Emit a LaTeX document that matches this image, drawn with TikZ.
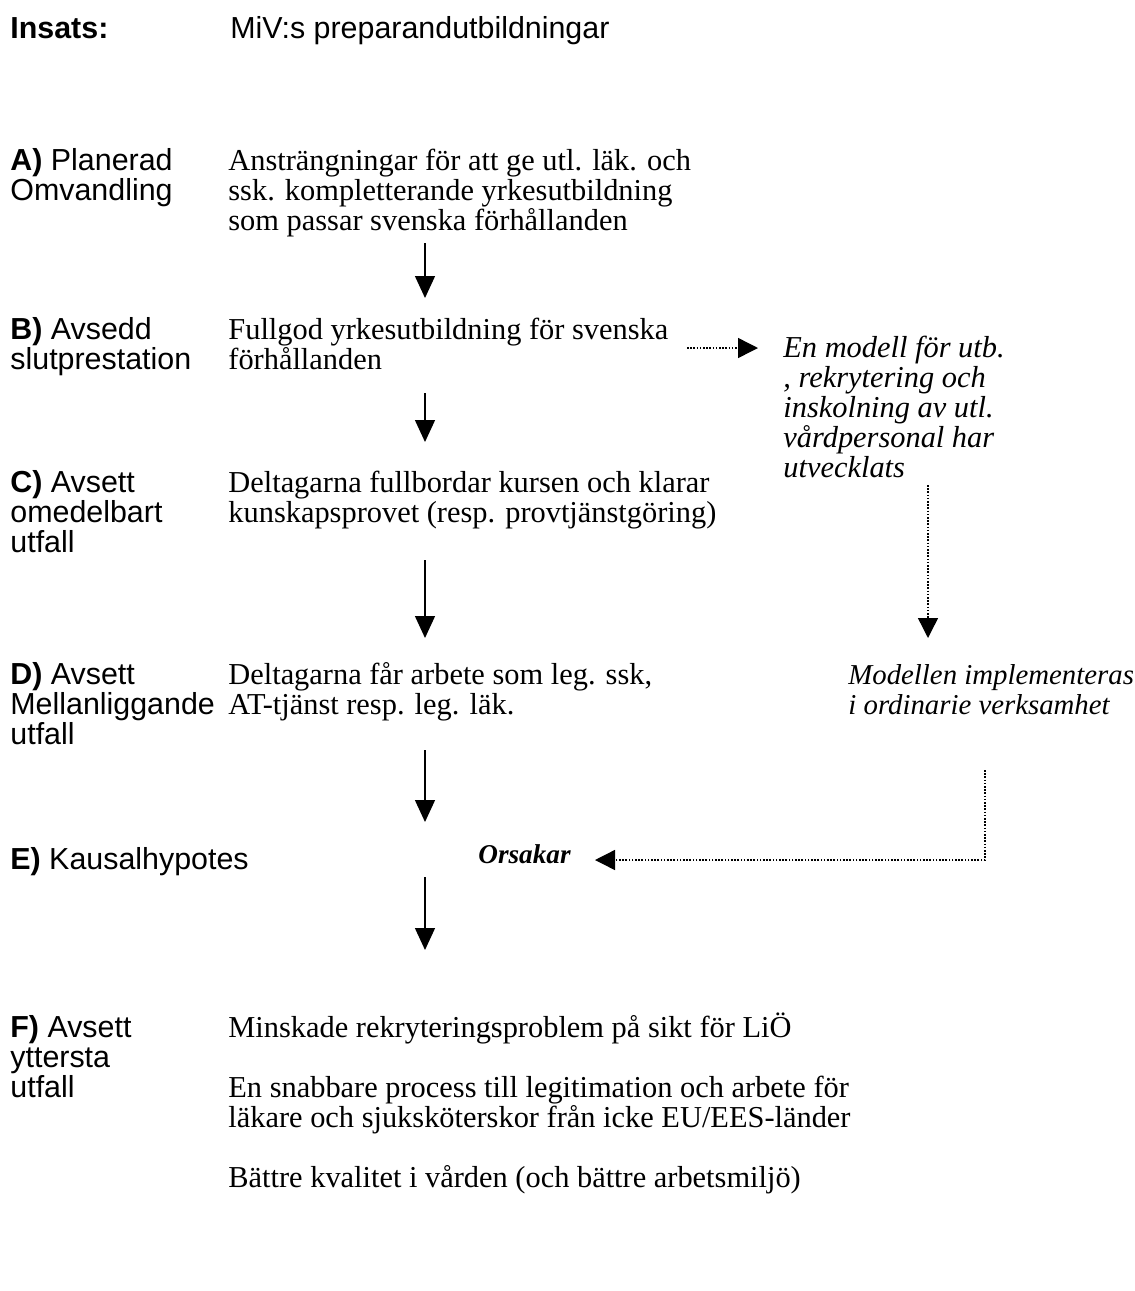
\documentclass[tikz,border=0pt]{standalone}
\usepackage{fontspec}
\setmainfont{Liberation Serif}
\setsansfont{Liberation Sans}
\usetikzlibrary{arrows.meta}
\begin{document}
% Nodes are placed by the baseline of their last line; lines are 30 units apart.
\begin{tikzpicture}[x=0.5pt,y=-0.5pt,
  lbl/.style={font=\sffamily\fontsize{15.2}{15}\selectfont,align=left,anchor=base west,inner sep=0pt},
  txt/.style={font=\rmfamily\fontsize{15.2}{15}\selectfont,align=left,anchor=base west,inner sep=0pt},
  itxt/.style={txt,font=\rmfamily\itshape\fontsize{15.2}{15}\selectfont},
  flow/.style={line width=0.7pt,-{Triangle[width=10pt,length=11pt]}},
  link/.style={line width=0.7pt,dash pattern=on 0.8pt off 0.8pt,-{Triangle[width=10pt,length=10pt]}}]
\useasboundingbox (0,0) rectangle (1135,1291);
% heading
\node[lbl] (ins) at (10,38) {\textbf{Insats:}};
\node[lbl] (miv) at (230,38) {MiV:s preparandutbildningar};
% left column: stages
\node[lbl] (la) at (10,200) {\textbf{A)} Planerad\\Omvandling};
\node[lbl] (lb) at (10,369) {\textbf{B)} Avsedd\\slutprestation};
\node[lbl] (lc) at (10,552) {\textbf{C)} Avsett\\omedelbart\\utfall};
\node[lbl] (ld) at (10,744) {\textbf{D)} Avsett\\Mellanliggande\\utfall};
\node[lbl] (le) at (10,869) {\textbf{E)} Kausalhypotes};
\node[lbl] (lf) at (10,1097) {\textbf{F)} Avsett\\yttersta\\utfall};
% middle column: chain
\node[txt] (ta) at (228,230) {Ansträngningar för att ge utl. läk. och\\ssk. kompletterande yrkesutbildning\\som passar svenska förhållanden};
\node[txt] (tb) at (228,369) {Fullgod yrkesutbildning för svenska\\förhållanden};
\node[txt] (tc) at (228,522) {Deltagarna fullbordar kursen och klarar\\kunskapsprovet (resp. provtjänstgöring)};
\node[txt] (td) at (228,714) {Deltagarna får arbete som leg. ssk,\\AT-tjänst resp. leg. läk.};
\node[txt,font=\rmfamily\bfseries\itshape\fontsize{13.6}{15}\selectfont] (te) at (478,863) {Orsakar};
\node[txt] (tf1) at (228,1037) {Minskade rekryteringsproblem på sikt för LiÖ};
\node[txt] (tf2) at (228,1127) {En snabbare process till legitimation och arbete för\\läkare och sjuksköterskor från icke EU/EES-länder};
\node[txt] (tf3) at (228,1187) {Bättre kvalitet i vården (och bättre arbetsmiljö)};
% right column
\node[itxt] (rb) at (783,477) {En modell för utb.\\, rekrytering och\\inskolning av utl.\\vårdpersonal har\\utvecklats};
\node[itxt,font=\rmfamily\itshape\fontsize{14.4}{15}\selectfont] (rd) at (848,714) {Modellen implementeras\\i ordinarie verksamhet};
% connector end points
\coordinate (a1s) at (425,243); \coordinate (a1e) at (425,298);
\coordinate (a2s) at (425,393); \coordinate (a2e) at (425,442);
\coordinate (a3s) at (425,560); \coordinate (a3e) at (425,638);
\coordinate (a4s) at (425,750); \coordinate (a4e) at (425,822);
\coordinate (a5s) at (425,877); \coordinate (a5e) at (425,950);
\coordinate (b1s) at (687,348); \coordinate (b1e) at (758,348);
\coordinate (b2s) at (928,485); \coordinate (b2e) at (928,638);
\coordinate (b3s) at (985,770); \coordinate (b3c) at (985,860); \coordinate (b3e) at (595,860);
% solid chain arrows
\draw[flow] (a1s) -- (a1e);
\draw[flow] (a2s) -- (a2e);
\draw[flow] (a3s) -- (a3e);
\draw[flow] (a4s) -- (a4e);
\draw[flow] (a5s) -- (a5e);
% dotted side links
\draw[link] (b1s) -- (b1e);
\draw[link] (b2s) -- (b2e);
\draw[link] (b3s) -- (b3c) -- (b3e);
\end{tikzpicture}
\end{document}
